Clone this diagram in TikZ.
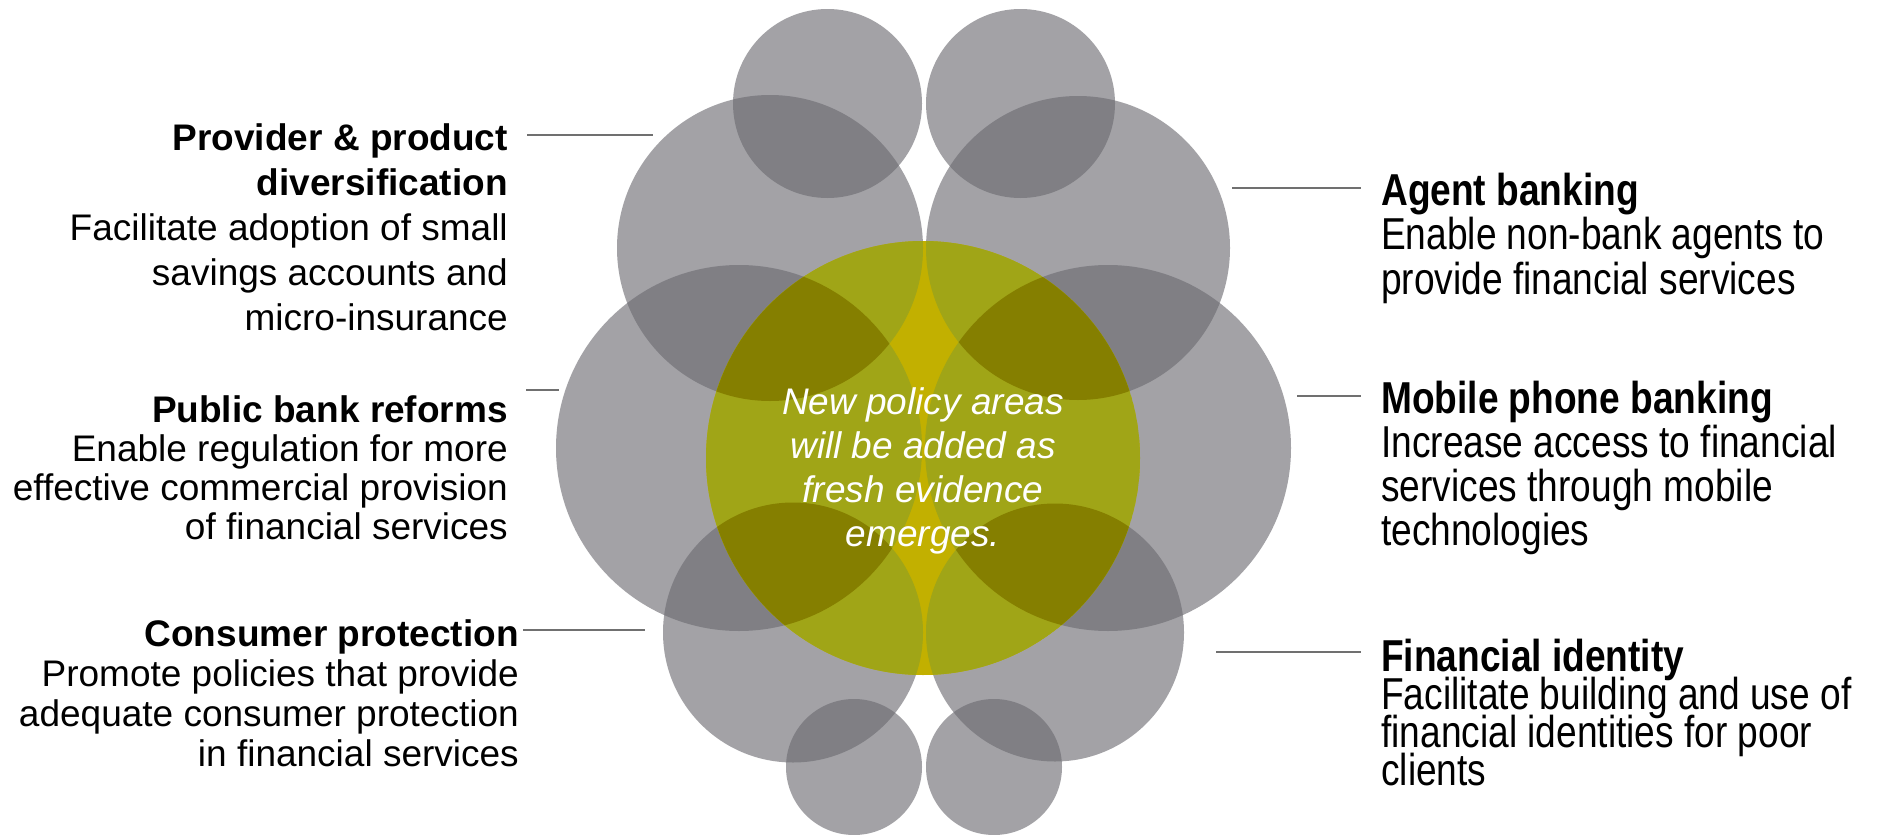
\documentclass[tikz,border=0pt]{standalone}
\usepackage{fontspec}
\setmainfont{Liberation Sans}
\newfontfamily\narrowsans[FakeStretch=0.83]{Liberation Sans}
\definecolor{discgray}{RGB}{107,106,112}
\definecolor{coregold}{RGB}{194,176,0}
\definecolor{coregreen}{RGB}{160,165,23}
\definecolor{coreolive}{RGB}{133,127,0}
\definecolor{leader}{RGB}{112,112,112}
\begin{document}
\begin{tikzpicture}[x=1pt,y=-1pt,
  disc/.style={fill=discgray,fill opacity=0.62},
  leaderline/.style={draw=leader,line width=2pt},
  lefttext/.style={inner sep=0pt,align=right,anchor=base east,text=black},
  righttext/.style={inner sep=0pt,align=left,anchor=base west,text=black},
  coretext/.style={inner sep=0pt,align=center,anchor=base,text=white,
    font=\itshape\fontsize{37}{44}\selectfont}]
\useasboundingbox (0,0) rectangle (1877,835);
\fill[white] (0,0) rectangle (1877,835);

% circle centres
\coordinate (tls) at (827.5,103.5);
\coordinate (trs) at (1020.5,103.5);
\coordinate (ull) at (770,248);
\coordinate (url) at (1078,248);
\coordinate (ml)  at (739,448);
\coordinate (mr)  at (1108,448);
\coordinate (ll)  at (793,632.5);
\coordinate (lr)  at (1055,632.5);
\coordinate (bls) at (854,767);
\coordinate (brs) at (994,767);
\coordinate (core) at (923,458);

% translucent grey discs
\fill[disc] (tls) circle[radius=94.5];
\fill[disc] (trs) circle[radius=94.5];
\fill[disc] (ull) circle[radius=153];
\fill[disc] (url) circle[radius=152];
\fill[disc] (ml)  circle[radius=183];
\fill[disc] (mr)  circle[radius=183];
\fill[disc] (ll)  circle[radius=130];
\fill[disc] (lr)  circle[radius=129];
\fill[disc] (bls) circle[radius=68];
\fill[disc] (brs) circle[radius=68];

% central disc, shaded by how many grey discs lie over it
\begin{scope}
  \clip (core) circle[radius=217];
  \fill[coregold] (core) circle[radius=217];
  \fill[coregreen] (ull) circle[radius=153];
  \fill[coregreen] (url) circle[radius=152];
  \fill[coregreen] (ml)  circle[radius=183];
  \fill[coregreen] (mr)  circle[radius=183];
  \fill[coregreen] (ll)  circle[radius=130];
  \fill[coregreen] (lr)  circle[radius=129];
  \begin{scope}
    \clip (ml) circle[radius=183];
    \fill[coreolive] (ull) circle[radius=153];
    \fill[coreolive] (ll)  circle[radius=130];
  \end{scope}
  \begin{scope}
    \clip (mr) circle[radius=183];
    \fill[coreolive] (url) circle[radius=152];
    \fill[coreolive] (lr)  circle[radius=129];
  \end{scope}
\end{scope}

% text nodes are placed by the baseline of their last line
\node[coretext] (newareas) at (923,546)
  {New policy areas\\will be added as\\fresh evidence\\emerges.};

% left-hand policy areas
\node[lefttext,font=\fontsize{37}{45}\selectfont] (provider) at (508,330)
  {\textbf{Provider \& product}\\\textbf{diversification}\\Facilitate adoption of small\\savings accounts and\\micro-insurance};
\node[lefttext,font=\fontsize{37}{39}\selectfont] (publicbank) at (508,539)
  {\textbf{Public bank reforms}\\Enable regulation for more\\effective commercial provision\\of financial services};
\node[lefttext,font={\fontsize{37}{40}\selectfont\lineskiplimit=-100pt}] (consumer) at (519,766)
  {\textbf{Consumer protection}\\Promote policies that provide\\adequate consumer protection\\in financial services};

% right-hand policy areas
\node[righttext,font={\narrowsans\fontsize{44.7}{44.5}\selectfont\lineskiplimit=-100pt}] (agent) at (1381,294)
  {\textbf{Agent banking}\\Enable non-bank agents to\\provide financial services};
\node[righttext,font={\narrowsans\fontsize{44.7}{44}\selectfont\lineskiplimit=-100pt}] (mobile) at (1381,545)
  {\textbf{Mobile phone banking}\\Increase access to financial\\services through mobile\\technologies};
\node[righttext,font={\narrowsans\fontsize{44.7}{38}\selectfont\lineskiplimit=-100pt}] (identity) at (1381,785)
  {\textbf{Financial identity}\\Facilitate building and use of\\financial identities for poor\\clients};

% leader lines
\coordinate (pa) at (527,135);  \coordinate (pb) at (653,135);
\coordinate (ba) at (526,390);  \coordinate (bb) at (559,390);
\coordinate (ca) at (523,630);  \coordinate (cb) at (645,630);
\coordinate (aa) at (1232,188); \coordinate (ab) at (1361,188);
\coordinate (ma) at (1297,396); \coordinate (mb) at (1361,396);
\coordinate (ia) at (1216,652); \coordinate (ib) at (1361,652);
\draw[leaderline] (pa) -- (pb);
\draw[leaderline] (ba) -- (bb);
\draw[leaderline] (ca) -- (cb);
\draw[leaderline] (aa) -- (ab);
\draw[leaderline] (ma) -- (mb);
\draw[leaderline] (ia) -- (ib);
\end{tikzpicture}
\end{document}
